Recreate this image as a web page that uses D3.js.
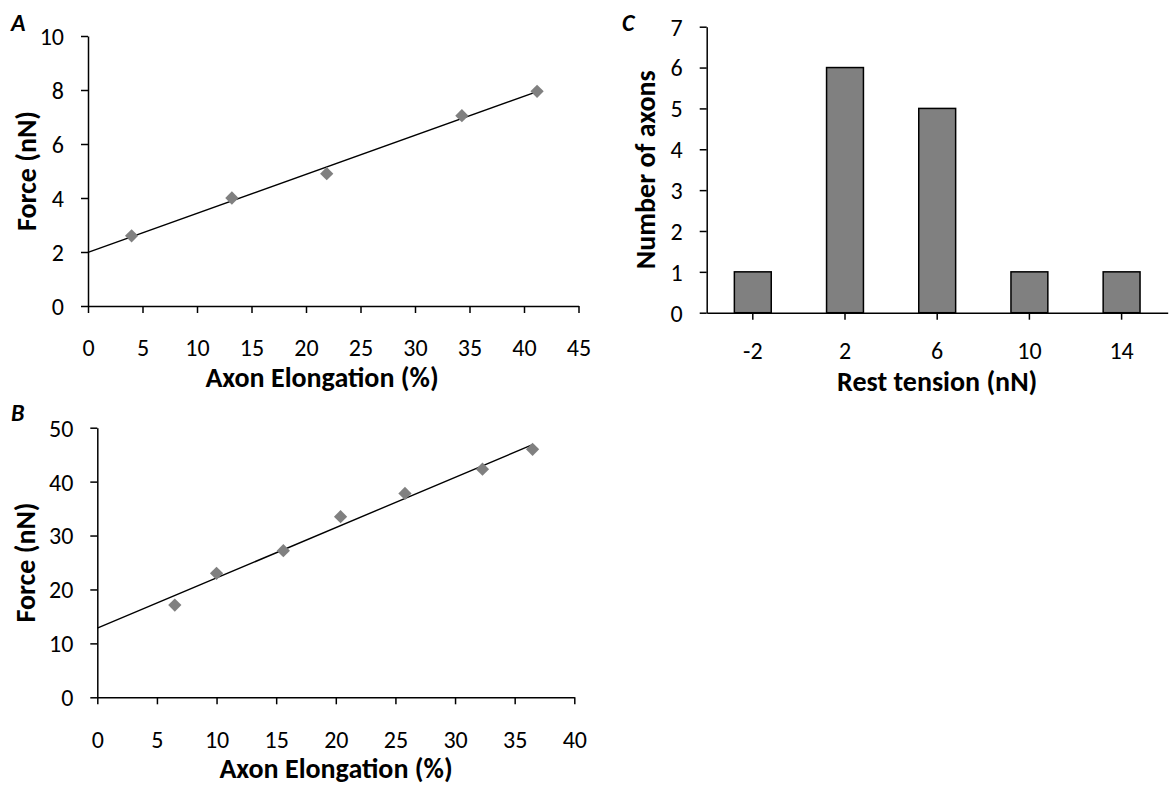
<!DOCTYPE html>
<html>
<head>
<meta charset="utf-8">
<script src="https://cdn.jsdelivr.net/npm/d3@7"></script>
<style>
  body { margin: 0; background: #fff; }
  svg text { font-family: Carlito, Calibri, Lato, "Open Sans", sans-serif; fill: #000; }
</style>
</head>
<body>
<svg id="chart" width="1169" height="788"></svg>
<script>
// panel A: force vs elongation
const elongA = [4.0, 13.2, 21.9, 34.3, 41.2];
const forceA = [2.6, 4.0, 4.9, 7.05, 7.95];
const xTicksA = [0, 5, 10, 15, 20, 25, 30, 35, 40, 45];
const yTicksA = [0, 2, 4, 6, 8, 10];

// panel B
const elongB = [6.5, 10.0, 15.6, 20.4, 25.8, 32.3, 36.5];
const forceB = [17.1, 23.0, 27.2, 33.5, 37.8, 42.3, 46.0];
const xTicksB = [0, 5, 10, 15, 20, 25, 30, 35, 40];
const yTicksB = [0, 10, 20, 30, 40, 50];

// panel C: histogram of rest tension
const tensionBins = ['-2', '2', '6', '10', '14'];
const axonCounts = [1, 6, 5, 1, 1];
const yTicksC = [0, 1, 2, 3, 4, 5, 6, 7];

const svg = d3.select('#chart');
const tickFont = 24, titleFont = 28, letterFont = 24;

function fit(xs, ys) {
  let mx = d3.mean(xs), my = d3.mean(ys);
  let sxy = d3.sum(xs, (x, i) => (x - mx) * (ys[i] - my));
  let sxx = d3.sum(xs, x => (x - mx) * (x - mx));
  let b = sxy / sxx;
  return { b: b, a: my - b * mx };
}

function styleAxis(g) {
  g.select('.domain').attr('stroke', '#000').attr('stroke-width', 1.5);
  g.selectAll('.tick line').attr('stroke', '#000').attr('stroke-width', 1.5);
  g.selectAll('.tick text').attr('font-size', tickFont).attr('fill', '#000');
}

function leftAxis(g, y, ticks, x0) {
  let ax = g.append('g')
    .attr('transform', 'translate(' + x0 + ',0)')
    .call(d3.axisLeft(y).tickValues(ticks).tickFormat(d3.format('d'))
      .tickSize(7).tickSizeOuter(0).tickPadding(17));
  ax.selectAll('.tick text').attr('dy', '0.35em');
  styleAxis(ax);
  return ax;
}

function bottomAxis(g, x, ticks, y0, labelGap) {
  let axis = d3.axisBottom(x).tickSize(7).tickSizeOuter(0);
  if (ticks) axis.tickValues(ticks).tickFormat(d3.format('d'));
  let ax = g.append('g')
    .attr('transform', 'translate(0,' + y0 + ')')
    .call(axis);
  ax.selectAll('.tick text').attr('y', labelGap).attr('dy', '0.35em');
  styleAxis(ax);
  return ax;
}

function scatterPanel(opts) {
  let g = svg.append('g');
  let x = d3.scaleLinear().domain(opts.xDomain).range([opts.left, opts.right]);
  let y = d3.scaleLinear().domain(opts.yDomain).range([opts.bottom, opts.top]);

  leftAxis(g, y, opts.yTicks, opts.left);
  bottomAxis(g, x, opts.xTicks, opts.bottom, 42);

  let f = fit(opts.xs, opts.ys);
  let xEnd = d3.max(opts.xs);
  g.append('line')
    .attr('x1', x(0)).attr('y1', y(f.a))
    .attr('x2', x(xEnd)).attr('y2', y(f.a + f.b * xEnd))
    .attr('stroke', '#000').attr('stroke-width', 1.4);

  let diamond = d3.symbol().type(d3.symbolSquare).size(88);
  g.selectAll('path.pt').data(opts.xs).enter().append('path')
    .attr('class', 'pt')
    .attr('d', diamond)
    .attr('fill', '#808080')
    .attr('transform', (d, i) => 'translate(' + x(d) + ',' + y(opts.ys[i]) + ') rotate(45)');

  g.append('text')
    .attr('x', opts.xTitleX).attr('y', opts.bottom + 81)
    .attr('text-anchor', 'middle')
    .attr('font-size', titleFont).attr('font-weight', 'bold')
    .text('Axon Elongation (%)');

  g.append('text')
    .attr('transform', 'translate(' + opts.yTitleX + ',' + (opts.top + opts.bottom) / 2 + ') rotate(-90)')
    .attr('text-anchor', 'middle')
    .attr('dy', '0.35em')
    .attr('font-size', titleFont).attr('font-weight', 'bold')
    .text('Force (nN)');

  g.append('text')
    .attr('x', 11).attr('y', opts.letterY)
    .attr('font-size', letterFont).attr('font-weight', 'bold').attr('font-style', 'italic')
    .text(opts.letter);
}

scatterPanel({
  letter: 'A', letterY: 31,
  xs: elongA, ys: forceA,
  xDomain: [0, 45], yDomain: [0, 10],
  xTicks: xTicksA, yTicks: yTicksA,
  left: 88, right: 578.5, top: 36, bottom: 306,
  xTitleX: 322, yTitleX: 26
});

scatterPanel({
  letter: 'B', letterY: 421,
  xs: elongB, ys: forceB,
  xDomain: [0, 40], yDomain: [0, 50],
  xTicks: xTicksB, yTicks: yTicksB,
  left: 97.3, right: 574.3, top: 427.7, bottom: 697.3,
  xTitleX: 336, yTitleX: 25
});

// panel C
(function () {
  let left = 706.7, right = 1167.7, top = 26.7, bottom = 312.7;
  let g = svg.append('g');
  let x = d3.scaleBand().domain(tensionBins).range([left, right]).paddingInner(0.6).paddingOuter(0.3);
  let y = d3.scaleLinear().domain([0, 7]).range([bottom, top]);

  g.selectAll('rect').data(axonCounts).enter().append('rect')
    .attr('x', (d, i) => x(tensionBins[i]))
    .attr('width', x.bandwidth())
    .attr('y', d => y(d))
    .attr('height', d => y(0) - y(d))
    .attr('fill', '#808080')
    .attr('stroke', '#000')
    .attr('stroke-width', 1.5);

  leftAxis(g, y, yTicksC, left);
  bottomAxis(g, x, null, bottom, 38);

  g.append('text')
    .attr('x', (left + right) / 2).attr('y', bottom + 78)
    .attr('text-anchor', 'middle')
    .attr('font-size', titleFont).attr('font-weight', 'bold')
    .text('Rest tension (nN)');

  g.append('text')
    .attr('transform', 'translate(645,' + (top + bottom) / 2 + ') rotate(-90)')
    .attr('text-anchor', 'middle')
    .attr('dy', '0.35em')
    .attr('font-size', titleFont).attr('font-weight', 'bold')
    .text('Number of axons');

  g.append('text')
    .attr('x', 622).attr('y', 31)
    .attr('font-size', letterFont).attr('font-weight', 'bold').attr('font-style', 'italic')
    .text('C');
})();
</script>
</body>
</html>
